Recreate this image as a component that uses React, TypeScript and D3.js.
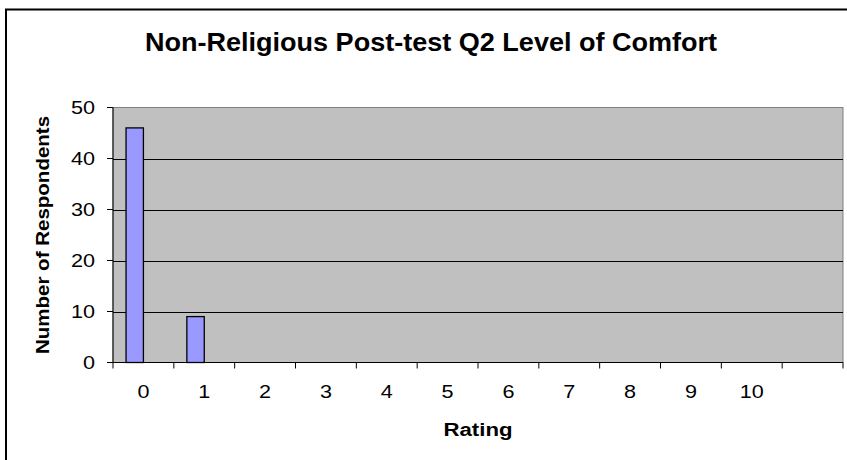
import React from "react";
import * as d3 from "d3";

const categories = ["0", "1", "2", "3", "4", "5", "6", "7", "8", "9", "10", ""];
const seriesA = [46, 9, 0, 0, 0, 0, 0, 0, 0, 0, 0, 0];
const seriesB = [0, 0, 0, 0, 0, 0, 0, 0, 0, 0, 0, 0];
const yTicks = [0, 10, 20, 30, 40, 50];

const W = 847;
const H = 460;
const plot = { left: 113, right: 843, top: 107.5, bottom: 362.5 };
const FONT = "Liberation Sans, Arial, sans-serif";

function SText(props: {
  x: number;
  y: number;
  sx: number;
  size: number;
  anchor: "start" | "middle" | "end";
  bold?: boolean;
  rotate?: number;
  dy?: string;
  children: React.ReactNode;
}) {
  const { x, y, sx, size, anchor, bold, rotate, dy, children } = props;
  return (
    <text
      transform={`translate(${x},${y}) rotate(${rotate || 0}) scale(${sx},1)`}
      textAnchor={anchor}
      fontSize={size}
      fontWeight={bold ? "bold" : "normal"}
      dy={dy}
      fill="#000"
    >
      {children}
    </text>
  );
}

export default function App() {
  const x = d3
    .scaleBand<string>()
    .domain(categories.map((c, i) => String(i)))
    .range([plot.left, plot.right])
    .paddingInner(0)
    .paddingOuter(0);
  const y = d3.scaleLinear().domain([0, 50]).range([plot.bottom, plot.top]);
  const step = x.step();
  const barW = step / 3.5;
  const groups = [seriesA, seriesB];

  return (
    <svg
      width={W}
      height={H}
      style={{ position: "fixed", left: 0, top: 0, background: "#fff" }}
      fontFamily={FONT}
    >
      <rect x={0} y={0} width={W} height={H} fill="#fff" />
      {/* outer chart border */}
      <rect x={6} y={9.5} width={870} height={480} fill="none" stroke="#000" strokeWidth={2} />
      {/* plot area */}
      <rect
        x={plot.left}
        y={plot.top}
        width={plot.right - plot.left}
        height={plot.bottom - plot.top}
        fill="#C0C0C0"
        stroke="#808080"
        strokeWidth={1}
      />
      {/* gridlines */}
      {yTicks
        .filter((t) => t > 0 && t < 50)
        .map((t) => (
          <line
            key={"g" + t}
            x1={plot.left}
            x2={plot.right}
            y1={Math.round(y(t)) + 0.5}
            y2={Math.round(y(t)) + 0.5}
            stroke="#000"
            strokeWidth={1}
          />
        ))}
      {/* bars */}
      {groups.map((s, si) =>
        s.map((v, i) => {
          if (!v) return null;
          const cx = (x(String(i)) as number) + step / 2;
          const x0 = cx - barW + si * barW;
          return (
            <rect
              key={si + "-" + i}
              x={x0}
              y={y(v)}
              width={barW}
              height={plot.bottom - y(v)}
              fill="#9999FF"
              stroke="#000"
              strokeWidth={1.3}
            />
          );
        })
      )}
      {/* axes */}
      <line x1={plot.left} x2={plot.left} y1={plot.top} y2={plot.bottom} stroke="#000" />
      <line x1={plot.left - 6} x2={plot.right} y1={plot.bottom} y2={plot.bottom} stroke="#000" />
      {yTicks.map((t) => (
        <g key={"yt" + t}>
          <line x1={plot.left - 6} x2={plot.left} y1={y(t)} y2={y(t)} stroke="#000" />
          <SText x={95} y={y(t)} sx={1.2} size={18} anchor="end" dy="0.36em">
            {t}
          </SText>
        </g>
      ))}
      {categories.map((c, i) => (
        <line
          key={"xt" + i}
          x1={x(String(i)) as number}
          x2={x(String(i)) as number}
          y1={plot.bottom}
          y2={plot.bottom + 6}
          stroke="#000"
        />
      ))}
      <line x1={plot.right} x2={plot.right} y1={plot.bottom} y2={plot.bottom + 6} stroke="#000" />
      {categories.map((c, i) => (
        <SText
          key={"xl" + i}
          x={(x(String(i)) as number) + step / 2}
          y={398}
          sx={1.2}
          size={18}
          anchor="middle"
        >
          {c}
        </SText>
      ))}
      {/* titles */}
      <SText x={431} y={51} sx={1.04} size={26} anchor="middle" bold>
        Non-Religious Post-test Q2 Level of Comfort
      </SText>
      <SText x={478} y={436} sx={1.2} size={18.5} anchor="middle" bold>
        Rating
      </SText>
      <SText
        x={49}
        y={(plot.top + plot.bottom) / 2}
        sx={1.14}
        size={18}
        anchor="middle"
        rotate={-90}
        bold
      >
        Number of Respondents
      </SText>
    </svg>
  );
}
